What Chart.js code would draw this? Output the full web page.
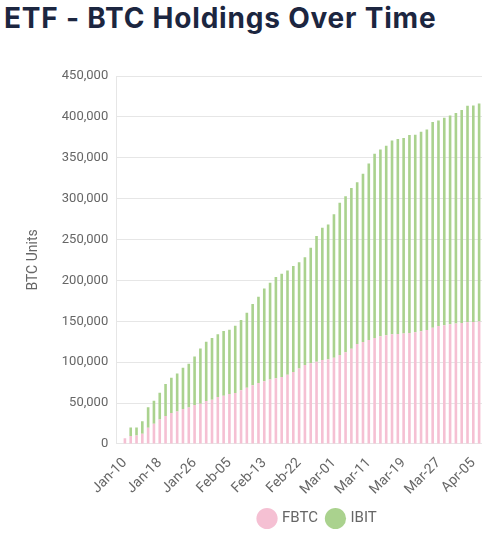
<!DOCTYPE html>
<html>
<head>
<meta charset="utf-8">
<script src="https://cdn.jsdelivr.net/npm/chart.js@4.4.1/dist/chart.umd.min.js"></script>
<style>
    body { margin: 0; background: #fff; width: 486px; height: 536px; overflow: hidden; position: relative; }
    h1 {
        position: absolute; left: 4px; top: 0; margin: 0;
        font-family: Inter, "Open Sans", sans-serif; font-weight: 700;
        font-size: 28px; line-height: 36px; letter-spacing: 0.8px; color: #1c2640;
    }
    #wrap { position: absolute; left: 0; top: 54px; width: 494px; height: 482px; }
</style>
</head>
<body>
<h1>ETF - BTC Holdings Over Time</h1>
<div id="wrap"><canvas id="chart"></canvas></div>
<script>
// Trading days (first slot is empty)
const dates = [
    'Jan-09', 'Jan-10', 'Jan-11', 'Jan-12', 'Jan-15', 'Jan-16', 'Jan-17', 'Jan-18', 'Jan-19',
    'Jan-22', 'Jan-23', 'Jan-24', 'Jan-25', 'Jan-26', 'Jan-29', 'Jan-30', 'Jan-31',
    'Feb-01', 'Feb-02', 'Feb-05', 'Feb-06', 'Feb-07', 'Feb-08', 'Feb-09', 'Feb-12', 'Feb-13',
    'Feb-14', 'Feb-15', 'Feb-16', 'Feb-20', 'Feb-21', 'Feb-22', 'Feb-23', 'Feb-26', 'Feb-27',
    'Feb-28', 'Feb-29', 'Mar-01', 'Mar-04', 'Mar-05', 'Mar-06', 'Mar-07', 'Mar-08', 'Mar-11',
    'Mar-12', 'Mar-13', 'Mar-14', 'Mar-15', 'Mar-18', 'Mar-19', 'Mar-20', 'Mar-21', 'Mar-22',
    'Mar-25', 'Mar-26', 'Mar-27', 'Mar-28', 'Apr-01', 'Apr-02', 'Apr-03', 'Apr-04', 'Apr-05', 'Apr-08'
];

// Labels that show on the x axis
const shownTicks = ['Jan-10', 'Jan-18', 'Jan-26', 'Feb-05', 'Feb-13', 'Feb-22',
    'Mar-01', 'Mar-11', 'Mar-19', 'Mar-27', 'Apr-05'];

const fbtc = [
    0, 6900, 9500, 10300, 12300, 19800, 24600, 29800, 34000, 37700,
    39700, 42600, 44600, 47500, 49100, 52400, 54000, 57400, 59000, 61000,
    62300, 65500, 68800, 71600, 74500, 76500, 78600, 80200, 81900, 84500,
    88000, 92100, 96600, 98600, 100600, 102700, 103500, 105500, 108800, 112000,
    116500, 122200, 124700, 127100, 129600, 131600, 132800, 134100, 134500, 134900,
    135700, 136500, 137700, 139400, 142200, 144300, 145100, 146300, 147100, 147900,
    148700, 149100, 149600
];

const ibit = [
    0, 0, 10500, 9700, 15300, 25000, 28300, 32800, 39300, 43300,
    46300, 50400, 53400, 59400, 67600, 72600, 75400, 76600, 79000, 78700,
    82300, 86000, 91700, 99400, 105500, 113500, 118400, 123800, 126100, 127500,
    129600, 130000, 131600, 141400, 153700, 161800, 165000, 175300, 186200, 190800,
    196500, 197700, 205800, 216000, 225400, 228600, 231900, 237100, 238400, 239200,
    242100, 241700, 244100, 245300, 251400, 251400, 253900, 255500, 257500, 260400,
    264900, 264900, 266900
];

const yMax = 450000;
const yStep = 50000;

// nudge the legend to the right, like the original
const legendShift = {
    id: 'legendShift',
    afterLayout(chart) {
        chart.legend.left += 19;
        chart.legend.right += 19;
    }
};

const ctx = document.getElementById('chart').getContext('2d');
new Chart(ctx, {
    type: 'bar',
    data: {
        labels: dates,
        datasets: [
            {
                label: 'FBTC',
                data: fbtc,
                backgroundColor: '#f5c0d3',
                barPercentage: 0.5,
                categoryPercentage: 0.9
            },
            {
                label: 'IBIT',
                data: ibit,
                backgroundColor: '#aad28e',
                barPercentage: 0.5,
                categoryPercentage: 0.9
            }
        ]
    },
    options: {
        responsive: true,
        maintainAspectRatio: false,
        animation: false,
        layout: { padding: { top: 22, right: 0, left: 21, bottom: 0 } },
        plugins: {
            legend: {
                position: 'bottom',
                fullSize: false,
                labels: {
                    usePointStyle: true,
                    pointStyle: 'circle',
                    boxWidth: 15,
                    boxHeight: 15,
                    padding: 10,
                    color: '#666',
                    font: { family: 'Roboto', size: 15 }
                }
            },
            tooltip: { enabled: false }
        },
        scales: {
            x: {
                stacked: true,
                grid: { display: false },
                border: { display: false },
                ticks: {
                    autoSkip: false,
                    maxRotation: 45,
                    minRotation: 45,
                    color: '#666',
                    font: { family: 'Roboto', size: 14 },
                    callback: function (value, index) {
                        const d = dates[index];
                        return shownTicks.includes(d) ? d : '';
                    }
                }
            },
            y: {
                stacked: true,
                min: 0,
                max: yMax,
                grid: { color: '#e6e6e6', drawTicks: false },
                border: { color: '#e6e6e6' },
                ticks: {
                    stepSize: yStep,
                    padding: 8,
                    color: '#666',
                    font: { family: 'Roboto', size: 13 }
                },
                title: {
                    display: true,
                    text: 'BTC Units',
                    color: '#666',
                    font: { family: 'Roboto', size: 14 },
                    padding: { bottom: 12 }
                }
            }
        }
    },
    plugins: [legendShift]
});
</script>
</body>
</html>
